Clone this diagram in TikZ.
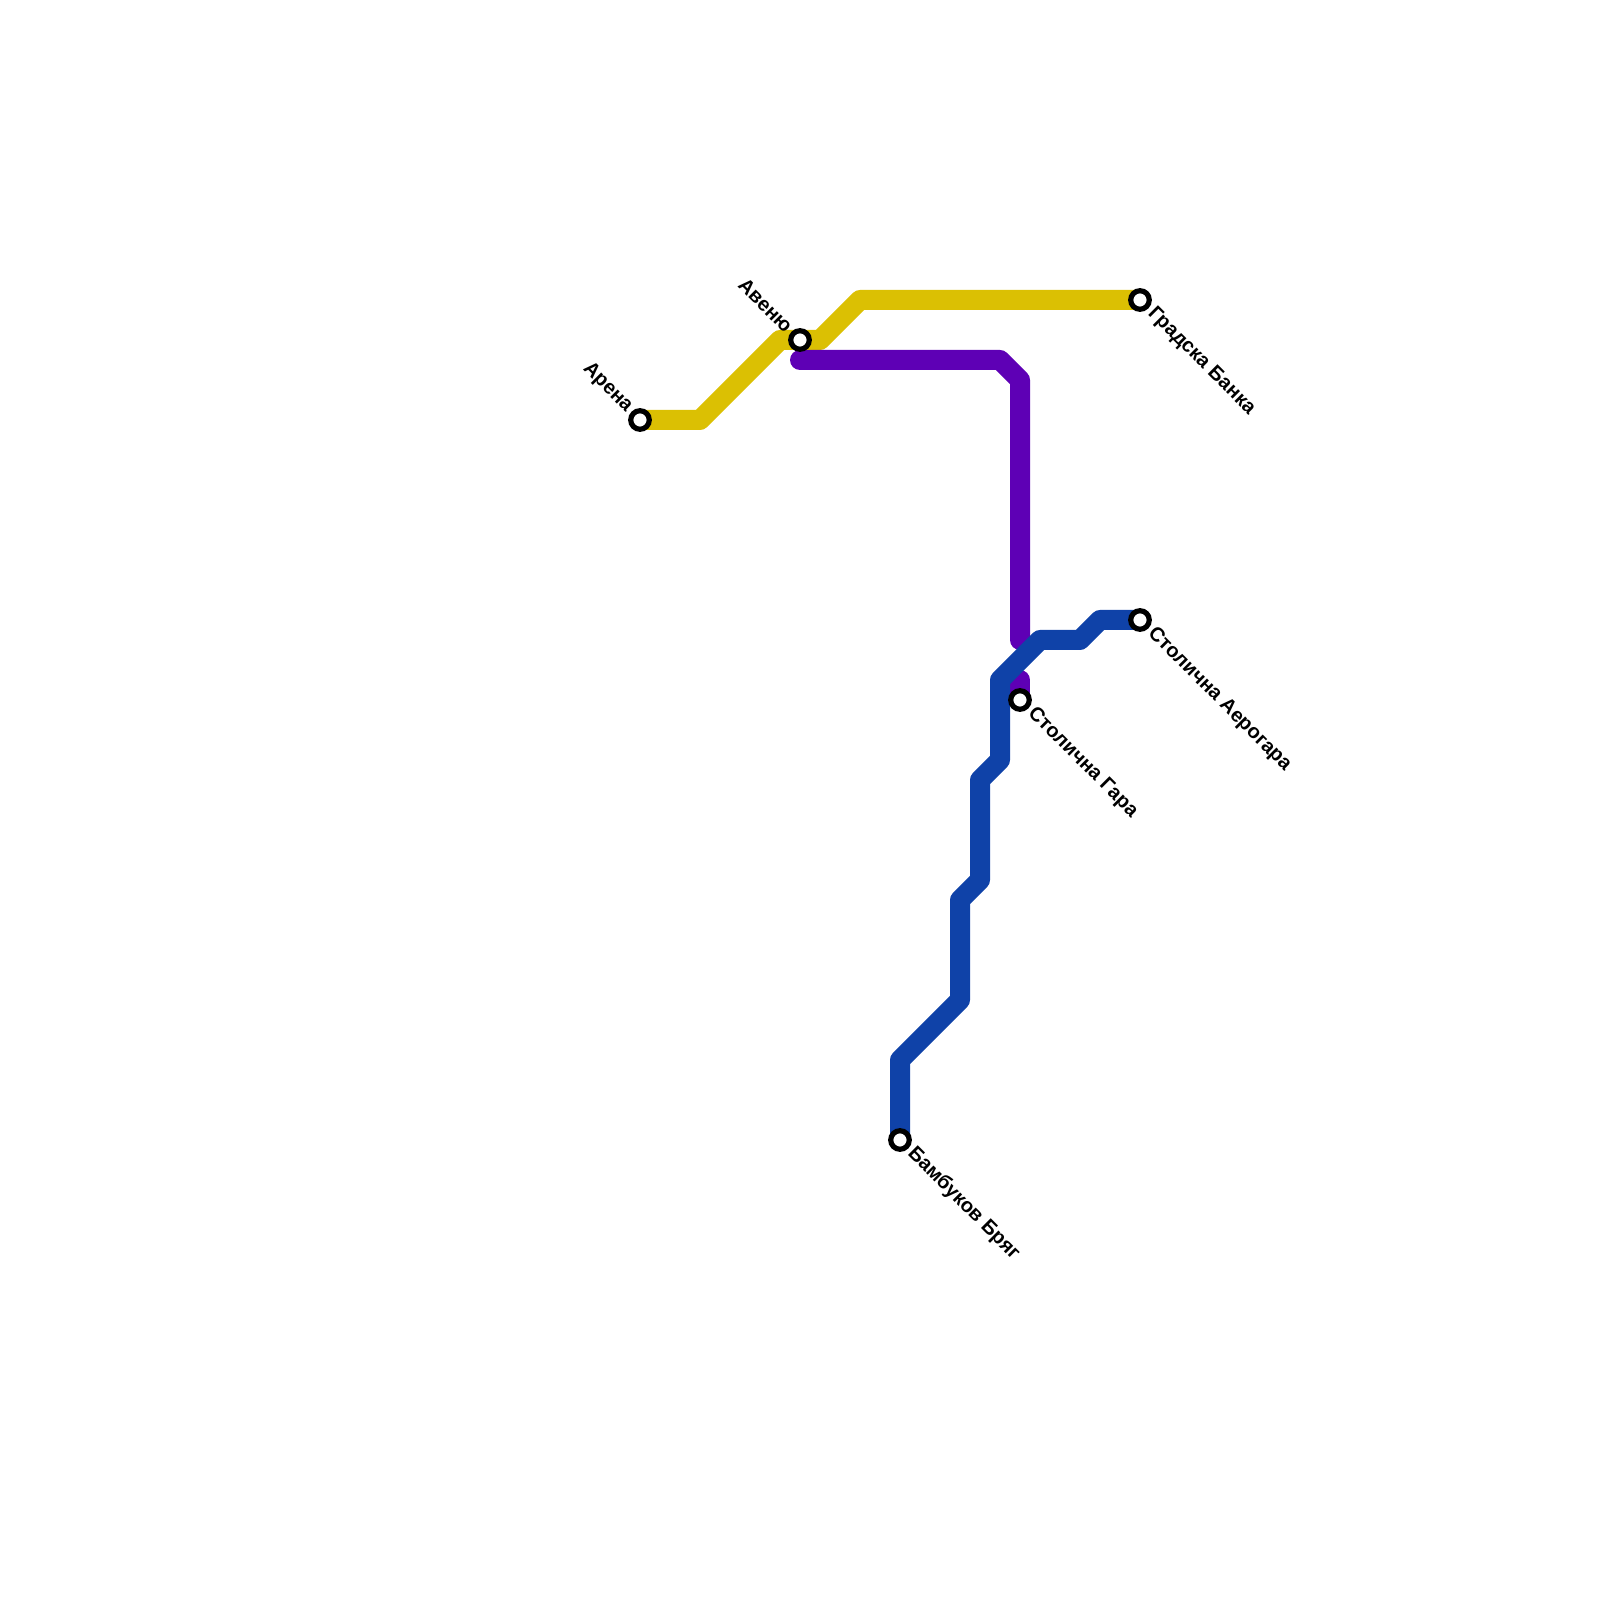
\documentclass[tikz,border=0pt]{standalone}
\usepackage{fontspec}
\setmainfont{Liberation Sans}
\usetikzlibrary{backgrounds}
\definecolor{linegold}{HTML}{DBC003}
\definecolor{lineviolet}{HTML}{5E00B5}
\definecolor{lineblue}{HTML}{0F42A8}
\begin{document}
\begin{tikzpicture}[x=.25cm, y=.25cm]
  \tikzset{metro/.style={line width=.25cm, line cap=round, line join=round}, stop/.style={draw=black, fill=white, circle, line width=1.85pt, minimum size=6.6pt, inner sep=0pt},
    stoplabel/.style={font=\bfseries\fontsize{7.12pt}{8pt}\selectfont, text=black, inner sep=0pt, rotate=-45}}
  \useasboundingbox (0,0) rectangle (80,80);

  % stops
  \foreach \n/\x/\y in {arena/32/59,avenue/40/63,gradska/57/65,aerogara/57/49,gara/51/45,bambuk/45/23}
    \node[stop] (\n) at (\x,\y) {};

  % bends
  \foreach \n/\x/\y in {a1/35/59,a2/39/63,a3/41/63,a4/43/65,b0/40/62,b1/50/62,b2/51/61,b3/51/48,b4/51/46,c1/55/49,c2/54/48,c3/52/48,c4/50/46,c5/50/42,c6/49/41,c7/49/36,c8/48/35,c9/48/30,c10/45/27}
    \coordinate (\n) at (\x,\y);

  \begin{scope}[on background layer]
    \draw[metro, linegold] (arena.center) -- (a1) -- (a2) -- (a3) -- (a4) -- (gradska.center);
    \draw[metro, lineviolet] (b0) -- (b1) -- (b2) -- (b3);
    \draw[metro, lineviolet] (b4) -- (gara.center);
    \draw[metro, lineblue] (aerogara.center) -- (c1) -- (c2) -- (c3) -- (c4) -- (c5) -- (c6) -- (c7) -- (c8) -- (c9) -- (c10) -- (bambuk.center);
  \end{scope}

  % labels
  \node[stoplabel, anchor=east] (arenaLabel) at ([shift={(-.52,.52)}]arena) {Арена};
  \node[stoplabel, anchor=east] (avenueLabel) at ([shift={(-.52,.52)}]avenue) {Авеню};
  \node[stoplabel, anchor=west] (gradskaLabel) at ([shift={(.52,-.52)}]gradska) {Градска Банка};
  \node[stoplabel, anchor=west] (aerogaraLabel) at ([shift={(.52,-.52)}]aerogara) {Столична Аерогара};
  \node[stoplabel, anchor=west] (garaLabel) at ([shift={(.52,-.52)}]gara) {Столична Гара};
  \node[stoplabel, anchor=west] (bambukLabel) at ([shift={(.52,-.52)}]bambuk) {Бамбуков Бряг};
\end{tikzpicture}
\end{document}
